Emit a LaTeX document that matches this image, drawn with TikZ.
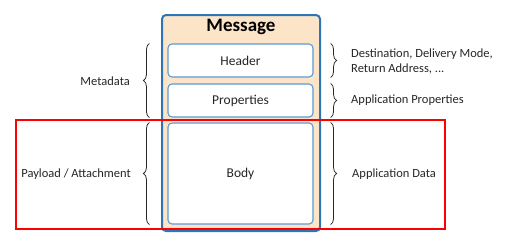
\documentclass[tikz,border=0pt]{standalone}
\usepackage{fontspec}
\setmainfont{Carlito}
\usetikzlibrary{decorations.pathreplacing}
\definecolor{msgfill}{HTML}{FCE4C8}
\definecolor{msgblue}{HTML}{2E75B6}
\definecolor{partblue}{HTML}{5B9BD5}
\definecolor{txtgray}{HTML}{262626}
\begin{document}
\begin{tikzpicture}[x=1bp,y=-1bp]
		\tikzstyle{every node}=[font=\fontsize{12.5bp}{15bp}\selectfont, text=txtgray]
		\tikzstyle{msgbox}=[draw=msgblue, fill=msgfill, line width=2bp, rounded corners=4bp, minimum width=158bp, minimum height=216bp, inner sep=0pt]
		\tikzstyle{partbox}=[draw=partblue, fill=white, line width=1.1bp, rounded corners=4bp, minimum width=145bp, inner sep=0pt, font=\fontsize{13.5bp}{15bp}\selectfont]
		\tikzstyle{lbrace}=[draw=txtgray, line width=0.8bp, decorate, decoration={brace, amplitude=6bp}]
		\tikzstyle{sidelabel}=[inner sep=0pt, align=left]
		
		\useasboundingbox (0,0) rectangle (506,243);
		
		\node[msgbox] (msg) at (241,123) {};
		\node[font=\fontsize{19bp}{21bp}\selectfont\bfseries, text=black] (title) at (241,27) {Message};
		
		\node[partbox, minimum height=33bp] (header) at (240.5,60.5) {Header};
		\node[partbox, minimum height=33bp] (props) at (240.5,100.5) {Properties};
		\node[partbox, minimum height=101bp] (body) at (240.5,173.5) {Body};
		
		% left braces
		\draw[lbrace] ([xshift=-18bp]props.south west) -- ([xshift=-18bp]header.north west);
		\draw[lbrace] ([xshift=-18bp]body.south west) -- ([xshift=-18bp]body.north west);
		
		% right braces
		\draw[lbrace] ([xshift=17bp]header.north east) -- ([xshift=17bp]header.south east);
		\draw[lbrace] ([xshift=17bp]props.north east) -- ([xshift=17bp]props.south east);
		\draw[lbrace] ([xshift=17bp]body.north east) -- ([xshift=17bp]body.south east);
		
		\node[sidelabel, anchor=east] (meta) at (130,81) {Metadata};
		\node[sidelabel, anchor=east] (payload) at (131,174) {Payload / Attachment};
		
		\node[sidelabel, anchor=west] (dest) at (351,61) {Destination, Delivery Mode,\\Return Address, ...};
		\node[sidelabel, anchor=west] (appprops) at (351,100) {Application Properties};
		\node[sidelabel, anchor=west] (appdata) at (352,174) {Application Data};
		
		\draw[red, line width=1.2bp] (16,120) rectangle (445,229);
		
	\end{tikzpicture}
\end{document}
